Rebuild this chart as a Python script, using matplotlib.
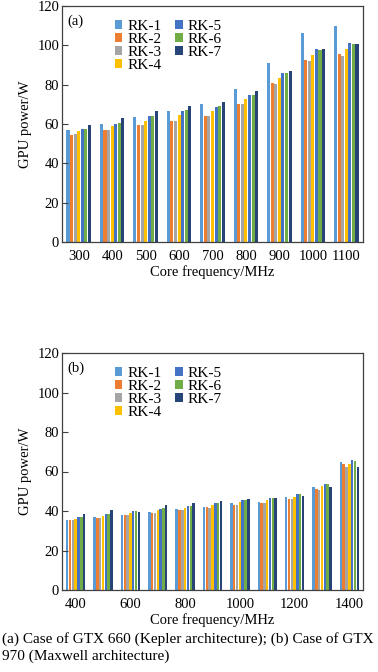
import matplotlib
matplotlib.use("Agg")
import matplotlib.pyplot as plt
import numpy as np
from matplotlib.patches import Patch

plt.rcParams['font.family'] = ['Liberation Serif', 'DejaVu Serif']

series = ["RK-1", "RK-2", "RK-3", "RK-4", "RK-5", "RK-6", "RK-7"]
colors = ["#5B9BD5", "#ED7D31", "#A5A5A5", "#FFC000", "#4472C4", "#70AD47", "#264478"]

freq_a = [300, 400, 500, 600, 700, 800, 900, 1000, 1100]
power_a = {
    "RK-1": [56.7, 60.0, 63.5, 66.7, 70.2, 78.0, 91.0, 106.3, 110.0],
    "RK-2": [54.3, 56.8, 59.3, 61.7, 64.2, 70.2, 80.7, 92.7, 95.7],
    "RK-3": [54.7, 56.8, 59.3, 61.7, 64.2, 70.2, 80.2, 91.8, 94.7],
    "RK-4": [56.2, 58.8, 61.3, 64.8, 66.7, 72.8, 83.2, 95.3, 98.0],
    "RK-5": [57.3, 60.2, 64.0, 66.7, 68.7, 75.0, 85.8, 98.3, 101.2],
    "RK-6": [57.7, 60.7, 64.3, 67.0, 69.0, 75.0, 85.7, 97.7, 100.7],
    "RK-7": [59.7, 62.8, 66.5, 69.3, 71.2, 76.8, 86.8, 98.0, 100.7],
}

freq_b = [400, 500, 600, 700, 800, 900, 1000, 1100, 1200, 1300, 1400]
tick_b = [400, 600, 800, 1000, 1200, 1400]
power_b = {
    "RK-1": [35.5, 36.8, 38.2, 39.7, 40.8, 42.2, 43.8, 44.8, 47.2, 52.3, 65.0],
    "RK-2": [35.5, 36.7, 38.0, 39.2, 40.5, 41.8, 43.2, 44.3, 46.3, 51.3, 63.7],
    "RK-3": [35.5, 36.7, 37.8, 39.2, 40.3, 41.5, 43.0, 44.0, 46.0, 50.5, 62.5],
    "RK-4": [36.2, 37.7, 38.8, 40.3, 41.5, 42.8, 44.5, 45.5, 47.3, 52.5, 64.0],
    "RK-5": [36.8, 38.5, 39.8, 41.2, 42.7, 44.0, 45.5, 46.7, 48.7, 53.8, 65.8],
    "RK-6": [37.0, 38.7, 40.0, 41.3, 42.7, 44.2, 45.5, 46.7, 48.5, 53.5, 65.3],
    "RK-7": [38.3, 40.3, 39.3, 42.8, 44.3, 45.3, 46.3, 46.7, 47.8, 52.0, 62.5],
}

fig = plt.figure(figsize=(3.78, 6.72), dpi=100)
ax_a = fig.add_axes([62/378, 1-242/672, 301/378, 236/672])
ax_b = fig.add_axes([62/378, 1-590/672, 301/378, 237/672])

FS = 10.5

def draw(ax, freqs, data, label, bw, ticks):
    x = np.arange(len(freqs))
    for j, s in enumerate(series):
        ax.bar(x + (j - 3) * bw, data[s], width=bw * 0.85, color=colors[j], linewidth=0)
    ax.set_xlim(-0.5, len(freqs) - 0.5)
    ax.set_ylim(0, 120)
    ax.set_yticks(range(0, 121, 20))
    ax.set_xticks([x[freqs.index(t)] for t in ticks])
    ax.set_xticklabels([str(t) for t in ticks])
    ax.tick_params(axis='y', direction='in', length=4, width=0.8, color='#404040', labelsize=FS, pad=2)
    ax.tick_params(axis='x', length=0, labelsize=FS, pad=6)
    for sp in ax.spines.values():
        sp.set_color('#404040')
        sp.set_linewidth(0.9)
    ax.set_ylabel("GPU power/W", fontsize=FS, labelpad=4)
    ax.set_xlabel("Core frequency/MHz", fontsize=FS, labelpad=1)
    ax.text(0.018, 0.965, label, transform=ax.transAxes, fontsize=FS, va='top', ha='left')
    handles = [Patch(facecolor=c, edgecolor='none') for c in colors]
    ax.legend(handles, series, ncol=2, loc='upper left', bbox_to_anchor=(0.14, 0.985),
              frameon=False, fontsize=11, handlelength=0.5, handleheight=0.5,
              handletextpad=0.3, columnspacing=0.9, labelspacing=0.0, borderpad=0.2)

draw(ax_a, freq_a, power_a, "(a)", 0.107, freq_a)
draw(ax_b, freq_b, power_b, "(b)", 0.103, tick_b)

fig.text(0.005, 1-639/672, "(a) Case of GTX 660 (Kepler architecture); (b) Case of GTX",
         fontsize=11, va='center', ha='left')
fig.text(0.005, 1-656/672, "970 (Maxwell architecture)", fontsize=11, va='center', ha='left')

fig.savefig("out.png", dpi=100)
